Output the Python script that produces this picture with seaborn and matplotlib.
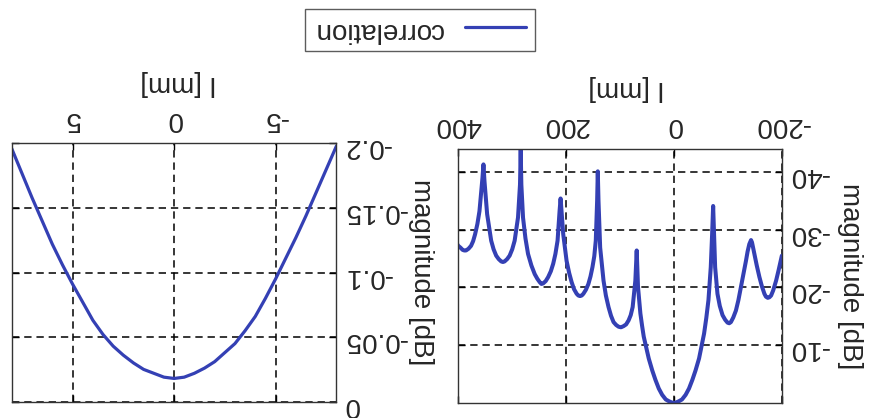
import matplotlib
matplotlib.use("Agg")
import matplotlib.pyplot as plt
import seaborn as sns
import pandas as pd

# ---- data ----
zoom_l = [8, 7.5, 7, 6.5, 6, 5.5, 5, 4.5, 4, 3.5, 3, 2.5, 2, 1.5, 1, 0.5, 0,
          -0.5, -1, -1.5, -2, -2.5, -3, -3.5, -4, -4.5, -5, -5.5, -6, -6.5, -7, -7.5, -8]
zoom_mag = [-0.196, -0.177, -0.158, -0.140, -0.122, -0.106, -0.091, -0.077, -0.063,
            -0.052, -0.043, -0.036, -0.030, -0.025, -0.022, -0.019, -0.018,
            -0.019, -0.022, -0.026, -0.031, -0.038, -0.045, -0.055, -0.066,
            -0.080, -0.095, -0.111, -0.127, -0.144, -0.162, -0.180, -0.198]

full_l = [-200.0, -194.0, -189.4, -184.0, -180.1, -177.0, -173.9, -170.5, -167.7, -163.0,
          -158.4, -153.5, -149.1, -144.7, -142.9, -139.7, -136.5,
          -133.5, -128.5, -124.2, -119.5, -114.9, -110.0, -105.6, -102.5, -99.4, -95.0,
          -90.1, -85.0, -80.7, -76.4, -74.5, -72.7,
          -70.8, -68.3, -64.0, -60.0, -55.9, -51.0, -46.6, -40.0, -34.2, -28.0, -21.7,
          -15.0, -9.3, -4.5, 0.0, 4.5, 9.3, 15.0,
          21.7, 28.0, 34.2, 40.0, 46.6, 51.0, 55.9, 59.0, 62.1, 66.5, 68.9, 71.4, 76.4, 80.0,
          83.9, 88.5, 93.2, 98.0, 102.5, 107.0, 111.8, 116.5, 121.1, 126.0, 130.4, 136.6,
          139.7, 141.0, 142.2, 144.7, 147.5,
          150.9, 154.5, 158.4, 163.0, 167.7, 170.8, 173.9, 177.0, 180.1, 185.0, 189.4, 194.0,
          198.8, 205.0, 208.1, 209.9,
          211.8, 215.5, 219.5, 223.6, 228.0, 232.9, 237.5, 242.2, 245.3, 248.4, 253.0, 257.8,
          264.0, 270.2, 275.0, 279.5, 282.6,
          283.8, 285.1, 288.8, 295.0, 299.5, 304.3, 309.0, 313.7, 316.8, 319.9, 324.5, 329.2,
          334.0, 338.5, 346.0,
          350.9, 352.8, 354.6, 360.2, 364.0, 368.3, 372.0, 375.8, 380.5, 385.1, 388.2, 391.3,
          395.5, 399.4, 403.7]
full_mag = [-25.5, -23.0, -21.2, -19.5, -18.6, -18.3, -18.2, -18.4, -18.9, -20.2,
            -21.8, -23.8, -25.8, -27.8, -28.2, -27.5, -26.2,
            -24.6, -22.2, -20.1, -17.8, -16.0, -14.8, -14.0, -13.8, -13.9, -14.4,
            -15.2, -16.8, -18.9, -23.5, -29.2, -34.1,
            -29.2, -23.5, -17.8, -14.7, -12.0, -9.7, -7.7, -5.6, -4.0, -2.5, -1.4,
            -0.6, -0.3, -0.1, 0.0, -0.1, -0.3, -0.6,
            -1.4, -2.5, -4.0, -5.6, -7.7, -9.5, -11.5, -13.4, -15.5, -20.1, -26.4, -21.2, -16.6, -15.2,
            -14.3, -13.6, -13.3, -13.1, -13.2, -13.5, -14.0, -15.1, -16.6, -18.6, -21.2, -26.9,
            -35.0, -40.1, -35.0, -28.1, -25.4,
            -23.5, -21.9, -20.6, -19.6, -18.9, -18.6, -18.5, -18.6, -18.9, -19.7, -20.9, -22.5,
            -24.6, -29.2, -33.2, -35.4,
            -33.2, -28.1, -25.8, -24.1, -22.8, -21.8, -21.1, -20.7, -20.6, -20.9, -21.5, -22.3,
            -23.8, -25.8, -28.5, -32.1, -37.8,
            -43.8, -37.8, -32.1, -28.1, -26.6, -25.5, -24.9, -24.5, -24.4, -24.5, -24.9, -25.5,
            -26.6, -28.1, -32.7,
            -38.4, -41.3, -39.0, -33.2, -31.0, -29.2, -28.0, -27.2, -26.7, -26.4, -26.4, -26.5,
            -26.9, -27.2, -27.8]

zoom_xticks = [-5, 0, 5]
zoom_yticks = [0, -0.05, -0.1, -0.15, -0.2]
zoom_yticklabels = ["0", "-0.05", "-0.1", "-0.15", "-0.2"]
full_xticks = [-200, 0, 200, 400]
full_yticks = [-10, -20, -30, -40]
full_yticklabels = ["-10", "-20", "-30", "-40"]

series_name = "correlation"
xlabel = "l [mm]"
ylabel = "magnitude [dB]"

# ---- style ----
sns.set_style("white")
plt.rcParams["font.family"] = ["Liberation Sans", "DejaVu Sans"]
plt.rcParams["axes.unicode_minus"] = False

line_color = "#3440b4"
fs = 20

fig = plt.figure(figsize=(8.73, 4.18), dpi=100)
ax1 = fig.add_axes([0.0134, 0.039, 0.372, 0.618])
ax2 = fig.add_axes([0.5246, 0.036, 0.371, 0.608])

df1 = pd.DataFrame({"l": zoom_l, "mag": zoom_mag})
df2 = pd.DataFrame({"l": full_l, "mag": full_mag})

sns.lineplot(data=df1, x="l", y="mag", ax=ax1, color=line_color, linewidth=2.3,
             label=series_name, sort=True, estimator=None)
sns.lineplot(data=df2, x="l", y="mag", ax=ax2, color=line_color, linewidth=2.9,
             sort=True, estimator=None)

ax1.set_xlim(8, -8)
ax1.set_ylim(0, -0.2)
ax2.set_xlim(400, -200)
ax2.set_ylim(0, -44)

ax1.set_xticks(zoom_xticks)
ax1.set_xticklabels([str(t) for t in zoom_xticks])
ax1.set_yticks(zoom_yticks)
ax1.set_yticklabels(zoom_yticklabels)
ax2.set_xticks(full_xticks)
ax2.set_xticklabels([str(t) for t in full_xticks])
ax2.set_yticks(full_yticks)
ax2.set_yticklabels(full_yticklabels)

for ax in (ax1, ax2):
    ax.xaxis.tick_top()
    ax.yaxis.tick_right()
    ax.tick_params(axis="both", direction="in", length=5, width=1, color="black",
                   labelsize=fs, top=True, bottom=True, left=True, right=True,
                   labeltop=True, labelbottom=False, labelright=True, labelleft=False)
    ax.tick_params(axis="x", pad=8)
    ax.tick_params(axis="y", pad=5)
    for lab in ax.get_xticklabels() + ax.get_yticklabels():
        lab.set_rotation(180)
    ax.grid(True, color="black", linestyle=(0, (4.8, 3.2)), linewidth=1.1)
    for sp in ax.spines.values():
        sp.set_color("#333333")
        sp.set_linewidth(1.0)
        sp.set_visible(True)
    ax.set_xlabel(xlabel, fontsize=fs, rotation=180)
    ax.set_ylabel(ylabel, fontsize=fs, rotation=270)
    ax.xaxis.set_label_position("top")
    ax.yaxis.set_label_position("right")

ax1.xaxis.set_label_coords(0.512, 1.233)
ax1.yaxis.set_label_coords(1.259, 0.5)
ax2.xaxis.set_label_coords(0.519, 1.24)
ax2.yaxis.set_label_coords(1.21, 0.5)
for ax in (ax1, ax2):
    ax.xaxis.label.set_va("center")
    ax.xaxis.label.set_ha("center")
    ax.yaxis.label.set_va("center")
    ax.yaxis.label.set_ha("center")

# legend (upside down: handle on the right)
handles, labels = ax1.get_legend_handles_labels()
ax1.get_legend().remove()
leg = fig.legend(handles, labels, loc="center", bbox_to_anchor=(0.481, 0.928),
                 markerfirst=False, fancybox=False, frameon=True, fontsize=fs,
                 handlelength=2.2, borderpad=0.3, handletextpad=0.8,
                 borderaxespad=0)
leg.get_frame().set_edgecolor("#333333")
leg.get_frame().set_linewidth(1.0)
for t in leg.get_texts():
    t.set_rotation(180)

fig.savefig("out.png", dpi=100)
